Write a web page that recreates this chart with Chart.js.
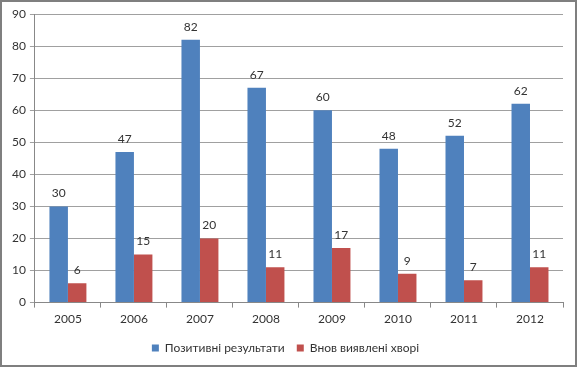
<!DOCTYPE html>
<html>
<head>
<meta charset="utf-8">
<script src="https://cdn.jsdelivr.net/npm/chart.js@4.4.1/dist/chart.umd.min.js"></script>
<style>
  body { margin: 0; background: #fff; }
  #wrap { width: 577px; height: 367px; }
</style>
</head>
<body>
<div id="wrap"><canvas id="canvas" width="577" height="367"></canvas></div>
<script>
var years = ['2005', '2006', '2007', '2008', '2009', '2010', '2011', '2012'];
var positive = [30, 47, 82, 67, 60, 48, 52, 62];
var newCases = [6, 15, 20, 11, 17, 9, 7, 11];
var yTicks = [0, 10, 20, 30, 40, 50, 60, 70, 80, 90];

// frame round the whole picture
var framePlugin = {
    id: 'frame',
    beforeDraw: function (chart) {
        var ctx = chart.ctx;
        ctx.save();
        ctx.fillStyle = '#fff';
        ctx.fillRect(0, 0, chart.width, chart.height);
        ctx.strokeStyle = '#7f7f7f';
        ctx.lineWidth = 2;
        ctx.strokeRect(1, 1, chart.width - 2, chart.height - 2);
        ctx.restore();
    }
};

// numbers above the bars
var labelPlugin = {
    id: 'barLabels',
    afterDatasetsDraw: function (chart) {
        var ctx = chart.ctx;
        ctx.save();
        ctx.font = '12px Lato, "Open Sans", sans-serif';
        ctx.fillStyle = '#333';
        ctx.textAlign = 'center';
        ctx.textBaseline = 'bottom';
        chart.data.datasets.forEach(function (ds, i) {
            chart.getDatasetMeta(i).data.forEach(function (bar, j) {
                ctx.fillText(ds.data[j], bar.x, bar.y - 7);
            });
        });
        ctx.restore();
    }
};

const ctx = document.getElementById('canvas');
const myChart = new Chart(ctx, {
    type: 'bar',
    data: {
        labels: years,
        datasets: [{
            label: 'Позитивні результати',
            data: positive,
            backgroundColor: '#4f81bd',
            categoryPercentage: 0.56,
            barPercentage: 1
        }, {
            label: 'Внов виявлені хворі',
            data: newCases,
            backgroundColor: '#c0504d',
            categoryPercentage: 0.56,
            barPercentage: 1
        }]
    },
    options: {
        responsive: false,
        animation: false,
        layout: { padding: { left: 8, right: 14, top: 14, bottom: 3 } },
        plugins: {
            tooltip: { enabled: false },
            legend: {
                position: 'bottom',
                labels: {
                    boxWidth: 7,
                    boxHeight: 7,
                    padding: 12,
                    color: '#333',
                    font: { family: 'Lato, "Open Sans", sans-serif', size: 12 }
                }
            }
        },
        scales: {
            x: {
                grid: { drawOnChartArea: false, tickLength: 5, color: '#888' },
                border: { color: '#888' },
                ticks: {
                    color: '#333',
                    padding: 4,
                    font: { family: 'Lato, "Open Sans", sans-serif', size: 12 }
                }
            },
            y: {
                min: 0,
                max: 90,
                afterBuildTicks: function (axis) {
                    axis.ticks = yTicks.map(function (v) { return { value: v }; });
                },
                grid: { color: '#a0a0a0', tickLength: 5 },
                border: { color: '#888' },
                ticks: {
                    color: '#333',
                    padding: 4,
                    font: { family: 'Lato, "Open Sans", sans-serif', size: 12 }
                }
            }
        }
    },
    plugins: [framePlugin, labelPlugin]
});
</script>
</body>
</html>
